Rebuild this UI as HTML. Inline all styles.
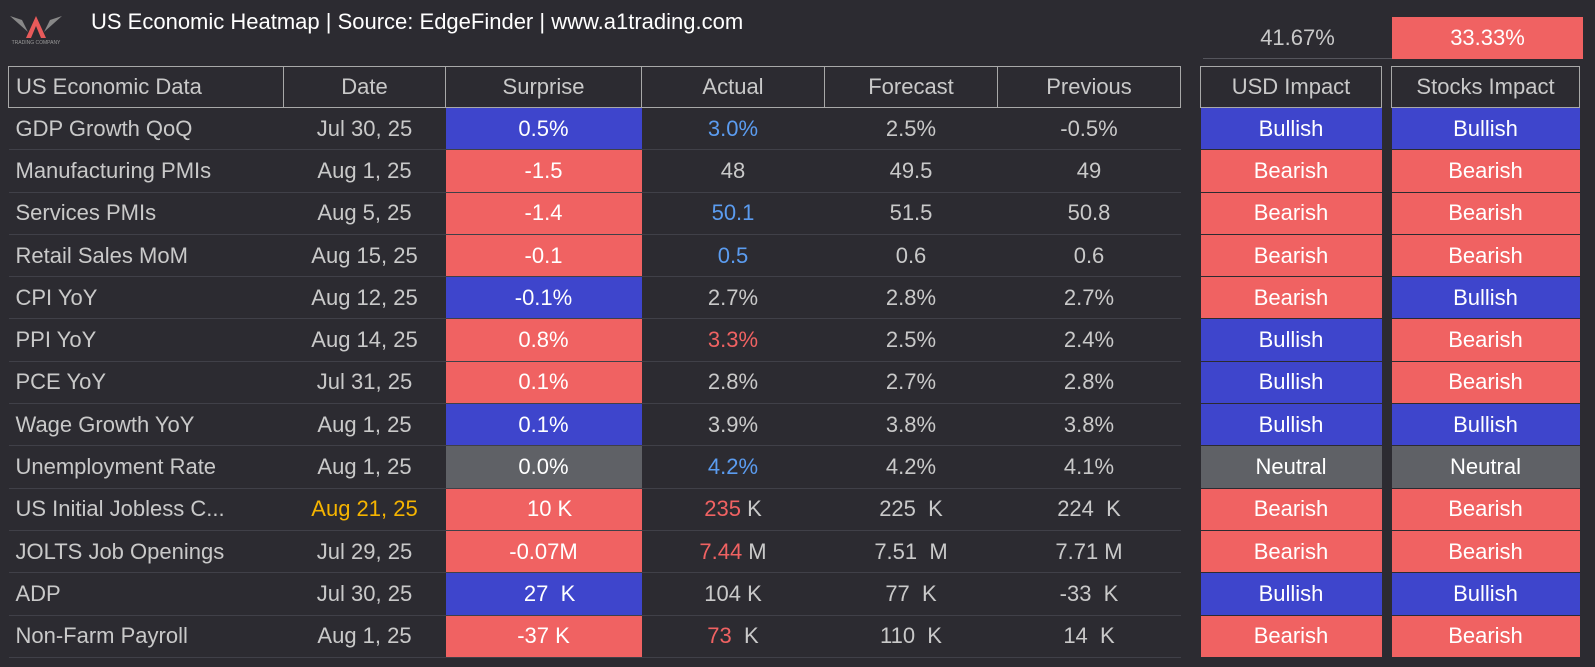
<!DOCTYPE html>
<html><head><meta charset="utf-8"><style>
body{margin:0;width:1595px;height:667px;background:#2c2b31;font-family:"Liberation Sans",sans-serif;color:#c9c9c9;overflow:hidden;position:relative}
.title{position:absolute;left:91px;top:9px;font-size:22px;color:#fff}
table{position:absolute;border-collapse:collapse;table-layout:fixed;font-size:22px}
td{height:41.3px;padding:0;text-align:center;border-bottom:1px solid #404048;white-space:nowrap;overflow:hidden}
th{height:40px;font-weight:normal;border:1.5px solid #a8a8a8;color:#c9c9c9;font-size:22px;padding:0}
.l{text-align:left;padding-left:7px}
.b{background:#3e45cc;color:#fff}
.r{background:#f06262;color:#fff}
.g{background:#5f6166;color:#fff}
.bt{color:#5b9cf0}.rt{color:#f06262}.o{color:#f5b400}
.imp td{border-bottom:1px solid #2c2b31}
</style></head><body>
<svg style="position:absolute;left:8px;top:12px" width="56" height="34" viewBox="0 0 56 34">
<path d="M2 4 L20 20 L14 8 Z M54 4 L36 20 L42 8 Z" fill="#888"/>
<path d="M28 4 L18 26 L23 26 L28 14 L33 26 L38 26 Z" fill="#e85a5a"/>
<text x="28" y="32" font-size="5" fill="#999" text-anchor="middle" font-family="Liberation Sans">TRADING COMPANY</text></svg>
<div class="title">US Economic Heatmap | Source: EdgeFinder | www.a1trading.com</div>
<div style="position:absolute;left:1203px;top:22px;width:189px;height:36px;border-bottom:1px solid #55555c;text-align:center;font-size:22px;line-height:32px">41.67%</div>
<div style="position:absolute;left:1392px;top:17px;width:191px;height:42px;background:#f06262;color:#fff;text-align:center;font-size:22px;line-height:42px">33.33%</div>
<table style="left:8px;top:66px;width:1172px">
<colgroup><col style="width:275px"><col style="width:162px"><col style="width:196px"><col style="width:183px"><col style="width:173px"><col style="width:183px"></colgroup>
<tr><th class="l" style="text-align:left">US Economic Data</th><th>Date</th><th>Surprise</th><th>Actual</th><th>Forecast</th><th>Previous</th></tr>
<tr><td class="l">GDP Growth QoQ</td><td>Jul 30, 25</td><td class="b">0.5%</td><td class="bt">3.0%</td><td>2.5%</td><td>-0.5%</td></tr>
<tr><td class="l">Manufacturing PMIs</td><td>Aug 1, 25</td><td class="r">-1.5</td><td>48</td><td>49.5</td><td>49</td></tr>
<tr><td class="l">Services PMIs</td><td>Aug 5, 25</td><td class="r">-1.4</td><td class="bt">50.1</td><td>51.5</td><td>50.8</td></tr>
<tr><td class="l">Retail Sales MoM</td><td>Aug 15, 25</td><td class="r">-0.1</td><td class="bt">0.5</td><td>0.6</td><td>0.6</td></tr>
<tr><td class="l">CPI YoY</td><td>Aug 12, 25</td><td class="b">-0.1%</td><td>2.7%</td><td>2.8%</td><td>2.7%</td></tr>
<tr><td class="l">PPI YoY</td><td>Aug 14, 25</td><td class="r">0.8%</td><td class="rt">3.3%</td><td>2.5%</td><td>2.4%</td></tr>
<tr><td class="l">PCE YoY</td><td>Jul 31, 25</td><td class="r">0.1%</td><td>2.8%</td><td>2.7%</td><td>2.8%</td></tr>
<tr><td class="l">Wage Growth YoY</td><td>Aug 1, 25</td><td class="b">0.1%</td><td>3.9%</td><td>3.8%</td><td>3.8%</td></tr>
<tr><td class="l">Unemployment Rate</td><td>Aug 1, 25</td><td class="g">0.0%</td><td class="bt">4.2%</td><td>4.2%</td><td>4.1%</td></tr>
<tr><td class="l">US Initial Jobless C...</td><td class="o">Aug 21, 25</td><td class="r">&nbsp;&nbsp;10 K</td><td><span class="rt">235</span> K</td><td>225&nbsp; K</td><td>224&nbsp; K</td></tr>
<tr><td class="l">JOLTS Job Openings</td><td>Jul 29, 25</td><td class="r">-0.07M</td><td><span class="rt">7.44</span> M</td><td>7.51&nbsp; M</td><td>7.71 M</td></tr>
<tr><td class="l">ADP</td><td>Jul 30, 25</td><td class="b">&nbsp;&nbsp;27&nbsp; K</td><td>104 K</td><td>77&nbsp; K</td><td>-33&nbsp; K</td></tr>
<tr><td class="l">Non-Farm Payroll</td><td>Aug 1, 25</td><td class="r">-37 K</td><td><span class="rt">73</span>&nbsp; K</td><td>110&nbsp; K</td><td>14&nbsp; K</td></tr>
</table>
<table class="imp" style="left:1200px;top:66px;width:182px">
<tr><th>USD Impact</th></tr>
<tr><td class="b">Bullish</td></tr><tr><td class="r">Bearish</td></tr><tr><td class="r">Bearish</td></tr><tr><td class="r">Bearish</td></tr><tr><td class="r">Bearish</td></tr><tr><td class="b">Bullish</td></tr><tr><td class="b">Bullish</td></tr><tr><td class="b">Bullish</td></tr><tr><td class="g">Neutral</td></tr><tr><td class="r">Bearish</td></tr><tr><td class="r">Bearish</td></tr><tr><td class="b">Bullish</td></tr><tr><td class="r">Bearish</td></tr>
</table>
<table class="imp" style="left:1391px;top:66px;width:189px">
<tr><th>Stocks Impact</th></tr>
<tr><td class="b">Bullish</td></tr><tr><td class="r">Bearish</td></tr><tr><td class="r">Bearish</td></tr><tr><td class="r">Bearish</td></tr><tr><td class="b">Bullish</td></tr><tr><td class="r">Bearish</td></tr><tr><td class="r">Bearish</td></tr><tr><td class="b">Bullish</td></tr><tr><td class="g">Neutral</td></tr><tr><td class="r">Bearish</td></tr><tr><td class="r">Bearish</td></tr><tr><td class="b">Bullish</td></tr><tr><td class="r">Bearish</td></tr>
</table>
</body></html>
